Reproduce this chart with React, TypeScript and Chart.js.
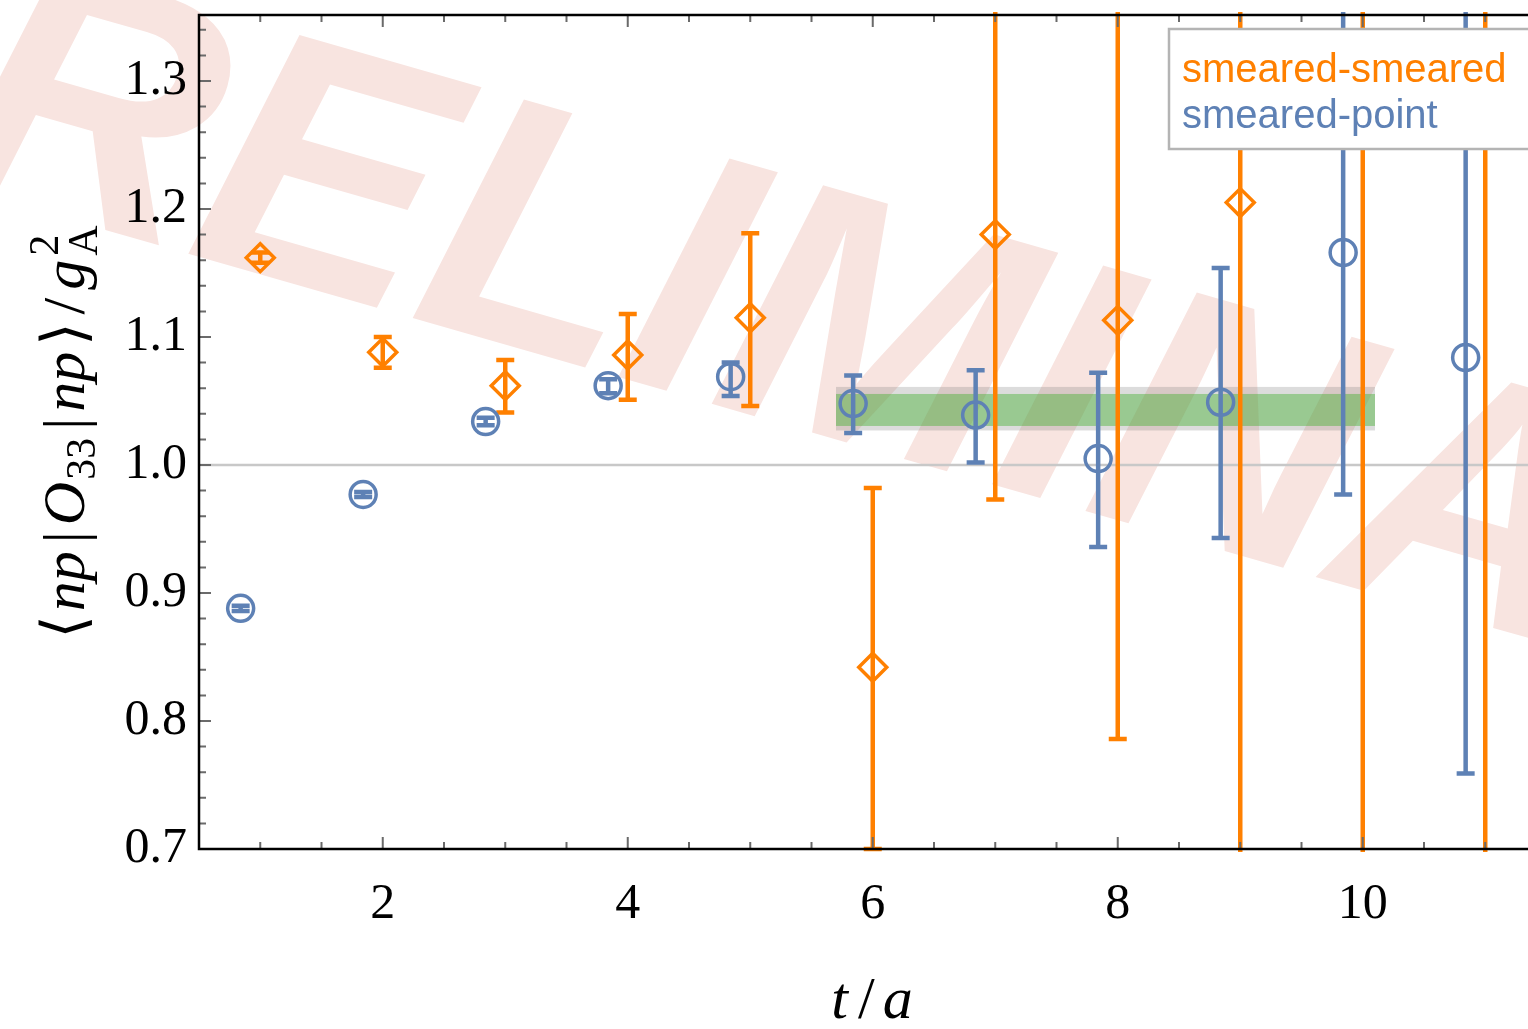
import React, { useEffect, useRef } from "react";
import { Chart, registerables } from "chart.js";

Chart.register(...registerables);

// ---------------- data ----------------
const ssT = [1, 2, 3, 4, 5, 6, 7, 8, 9, 10, 11];
const ssVal = [1.162, 1.088, 1.062, 1.086, 1.115, 0.842, 1.18, 1.113, 1.205, 1.5, 0.5];
const ssLo = [1.158, 1.076, 1.041, 1.051, 1.046, 0.7, 0.973, 0.786, 0.6, 0.4, 0.3];
const ssHi = [1.166, 1.1, 1.082, 1.118, 1.181, 0.982, 1.45, 1.5, 1.8, 2.4, 1.6];

const spT = [0.84, 1.84, 2.84, 3.84, 4.84, 5.84, 6.84, 7.84, 8.84, 9.84, 10.84];
const spVal = [0.888, 0.977, 1.034, 1.062, 1.069, 1.048, 1.039, 1.005, 1.049, 1.166, 1.084];
const spLo = [0.886, 0.975, 1.031, 1.056, 1.054, 1.025, 1.002, 0.936, 0.943, 0.977, 0.759];
const spHi = [0.89, 0.979, 1.037, 1.067, 1.08, 1.07, 1.074, 1.072, 1.154, 1.5, 1.5];

const fitT = [5.7, 10.1];
const fitInner = [1.0305, 1.0555];
const fitOuter = [1.027, 1.061];
const refLine = 1.0;

const xTickVals = [2, 4, 6, 8, 10];
const yTickVals = [0.7, 0.8, 0.9, 1.0, 1.1, 1.2, 1.3];
const legendLabels = ["smeared-smeared", "smeared-point"];
const watermark = "PRELIMINARY";

// ---------------- style ----------------
const ORANGE = "#ff8000";
const BLUE = "#5e81b5";
const W = 1528;
const H = 1029;
const SERIF = '"Liberation Serif", "DejaVu Serif", serif';

type Piece = { t: string; font: string; dy?: number; gap?: number; noAdvance?: boolean };

function richText(
  ctx: CanvasRenderingContext2D,
  pieces: Piece[],
  cx: number,
  cy: number,
  angle: number
) {
  ctx.save();
  const widths = pieces.map((p) => {
    ctx.font = p.font;
    return ctx.measureText(p.t).width;
  });
  let total = 0;
  pieces.forEach((p, i) => {
    if (!p.noAdvance) total += widths[i] + (p.gap || 0);
  });
  ctx.translate(cx, cy);
  ctx.rotate(angle);
  ctx.fillStyle = "#000";
  ctx.textBaseline = "alphabetic";
  ctx.textAlign = "left";
  let x = -total / 2;
  pieces.forEach((p, i) => {
    ctx.font = p.font;
    ctx.fillText(p.t, x, p.dy || 0);
    if (!p.noAdvance) x += widths[i] + (p.gap || 0);
  });
  ctx.restore();
}

const decorPlugin = {
  id: "decor",
  beforeDraw(chart: any) {
    const ctx = chart.ctx as CanvasRenderingContext2D;
    ctx.save();
    ctx.translate(-285, 118);
    ctx.rotate((16 * Math.PI) / 180);
    ctx.font = 'italic bold 350px "Liberation Sans", Arial, sans-serif';
    ctx.fillStyle = "#f8e4e0";
    ctx.textBaseline = "alphabetic";
    ctx.fillText(watermark, 0, 0);
    ctx.restore();
  },
  beforeDatasetsDraw(chart: any) {
    const ctx = chart.ctx as CanvasRenderingContext2D;
    const xs = chart.scales.x;
    const ys = chart.scales.y;
    const a = chart.chartArea;
    ctx.save();
    ctx.beginPath();
    ctx.rect(a.left, a.top - 3, a.right - a.left, a.bottom - a.top + 6);
    ctx.clip();

    // reference line
    ctx.strokeStyle = "#c8c8c8";
    ctx.lineWidth = 2.5;
    const y1 = ys.getPixelForValue(refLine);
    ctx.beginPath();
    ctx.moveTo(a.left, y1);
    ctx.lineTo(a.right, y1);
    ctx.stroke();

    // fit band
    const bx0 = xs.getPixelForValue(fitT[0]);
    const bx1 = xs.getPixelForValue(fitT[1]);
    const oy0 = ys.getPixelForValue(fitOuter[1]);
    const oy1 = ys.getPixelForValue(fitOuter[0]);
    ctx.fillStyle = "rgba(120,120,120,0.26)";
    ctx.fillRect(bx0, oy0, bx1 - bx0, oy1 - oy0);
    const iy0 = ys.getPixelForValue(fitInner[1]);
    const iy1 = ys.getPixelForValue(fitInner[0]);
    ctx.fillStyle = "rgba(60,175,40,0.42)";
    ctx.fillRect(bx0, iy0, bx1 - bx0, iy1 - iy0);

    // error bars
    const groups = [
      { t: ssT, lo: ssLo, hi: ssHi, color: ORANGE, cap: 9 },
      { t: spT, lo: spLo, hi: spHi, color: BLUE, cap: 9 },
    ];
    for (const g of groups) {
      ctx.strokeStyle = g.color;
      ctx.lineWidth = 4.5;
      ctx.lineCap = "butt";
      g.t.forEach((t, i) => {
        const px = xs.getPixelForValue(t);
        const pl = ys.getPixelForValue(g.lo[i]);
        const ph = ys.getPixelForValue(g.hi[i]);
        ctx.beginPath();
        ctx.moveTo(px, pl);
        ctx.lineTo(px, ph);
        ctx.moveTo(px - g.cap, pl);
        ctx.lineTo(px + g.cap, pl);
        ctx.moveTo(px - g.cap, ph);
        ctx.lineTo(px + g.cap, ph);
        ctx.stroke();
      });
    }
    ctx.restore();
  },
  afterDraw(chart: any) {
    const ctx = chart.ctx as CanvasRenderingContext2D;
    const xs = chart.scales.x;
    const ys = chart.scales.y;
    const a = chart.chartArea;
    ctx.save();
    // ticks
    ctx.strokeStyle = "#6a6a6a";
    ctx.lineWidth = 2;
    ctx.beginPath();
    for (let k = 2; k <= 22; k++) {
      const v = k / 2;
      const px = xs.getPixelForValue(v);
      if (px > a.right) continue;
      const len = xTickVals.includes(v) ? 12 : 7;
      ctx.moveTo(px, a.bottom);
      ctx.lineTo(px, a.bottom - len);
      ctx.moveTo(px, a.top);
      ctx.lineTo(px, a.top + len);
    }
    for (let k = 35; k <= 67; k++) {
      const v = k / 50;
      const py = ys.getPixelForValue(v);
      if (py < a.top) continue;
      const len = k % 5 === 0 ? 12 : 7;
      ctx.moveTo(a.left, py);
      ctx.lineTo(a.left + len, py);
    }
    ctx.stroke();
    // frame
    ctx.strokeStyle = "#000";
    ctx.lineWidth = 2.5;
    ctx.beginPath();
    ctx.moveTo(a.right + 2, a.top);
    ctx.lineTo(a.left, a.top);
    ctx.lineTo(a.left, a.bottom);
    ctx.lineTo(a.right + 2, a.bottom);
    ctx.stroke();

    // legend
    ctx.fillStyle = "#fff";
    ctx.fillRect(1169, 29, 400, 120);
    ctx.strokeStyle = "#b4b4b4";
    ctx.lineWidth = 2.5;
    ctx.strokeRect(1169, 29, 400, 120);
    ctx.font = '40px "Liberation Sans", Arial, sans-serif';
    ctx.textBaseline = "alphabetic";
    ctx.textAlign = "left";
    ctx.fillStyle = ORANGE;
    ctx.fillText(legendLabels[0], 1182, 82);
    ctx.fillStyle = BLUE;
    ctx.fillText(legendLabels[1], 1182, 128);

    // axis titles
    const it = `italic 60px ${SERIF}`;
    const up = `60px ${SERIF}`;
    const sm = `42px ${SERIF}`;
    richText(
      ctx,
      [
        { t: "t", font: it, gap: 10 },
        { t: "/", font: up, gap: 8 },
        { t: "a", font: it },
      ],
      872,
      1018,
      0
    );
    richText(
      ctx,
      [
        { t: "\u27E8", font: up, gap: 4 },
        { t: "np", font: it, gap: 8 },
        { t: "|", font: up, gap: 6 },
        { t: "O", font: it, gap: 2 },
        { t: "33", font: sm, dy: 11, gap: 8 },
        { t: "|", font: up, gap: 6 },
        { t: "np", font: it, gap: 6 },
        { t: "\u27E9", font: up, gap: 8 },
        { t: "/", font: up, gap: 8 },
        { t: "g", font: it, gap: 4 },
        { t: "2", font: sm, dy: -26, noAdvance: true },
        { t: "A", font: sm, dy: 13 },
      ],
      84,
      432,
      -Math.PI / 2
    );
    ctx.restore();
  },
};

const zeroPad = (s: any) => {
  s.paddingLeft = 0;
  s.paddingRight = 0;
  s.paddingTop = 0;
  s.paddingBottom = 0;
};

export default function App() {
  const ref = useRef<HTMLCanvasElement | null>(null);
  useEffect(() => {
    if (!ref.current) return;
    const chart = new Chart(ref.current, {
      type: "scatter",
      data: {
        datasets: [
          {
            label: legendLabels[0],
            data: ssT.map((t, i) => ({ x: t, y: ssVal[i] })),
            pointStyle: "rectRot",
            pointRadius: 14,
            pointHoverRadius: 14,
            borderColor: ORANGE,
            backgroundColor: "rgba(0,0,0,0)",
            borderWidth: 3.5,
            showLine: false,
            clip: 0,
          } as any,
          {
            label: legendLabels[1],
            data: spT.map((t, i) => ({ x: t, y: spVal[i] })),
            pointStyle: "circle",
            pointRadius: 13,
            pointHoverRadius: 13,
            borderColor: BLUE,
            backgroundColor: "rgba(0,0,0,0)",
            borderWidth: 3.5,
            showLine: false,
            clip: 0,
          } as any,
        ],
      },
      options: {
        animation: false,
        responsive: false,
        events: [],
        layout: { autoPadding: false, padding: { top: 15, left: 0, right: 0, bottom: 0 } },
        plugins: { legend: { display: false }, tooltip: { enabled: false } },
        scales: {
          x: {
            type: "linear",
            min: 0.5,
            max: 0.5 + (W - 199) / 122.5,
            grid: { display: false, drawTicks: false },
            border: { display: false },
            afterBuildTicks: (s: any) => {
              s.ticks = xTickVals.map((v) => ({ value: v }));
            },
            afterFit: (s: any) => {
              s.height = H - 849;
              zeroPad(s);
            },
            ticks: {
              padding: 26,
              color: "#000",
              font: { family: SERIF, size: 50 },
              callback: (v: any) => String(v),
              maxRotation: 0,
            },
          },
          y: {
            type: "linear",
            min: 0.7,
            max: 0.7 + (849 - 15) / 1280,
            grid: { display: false, drawTicks: false },
            border: { display: false },
            afterBuildTicks: (s: any) => {
              s.ticks = yTickVals.map((v) => ({ value: v }));
            },
            afterFit: (s: any) => {
              s.width = 199;
              zeroPad(s);
            },
            ticks: {
              padding: 12,
              color: "#000",
              font: { family: SERIF, size: 50 },
              callback: (v: any) => Number(v).toFixed(1),
            },
          },
        },
      } as any,
      plugins: [decorPlugin],
    });
    return () => chart.destroy();
  }, []);
  return (
    <div style={{ position: "absolute", left: 0, top: 0, width: W, height: H, background: "#fff" }}>
      <canvas ref={ref} width={W} height={H} style={{ width: W, height: H, display: "block" }} />
    </div>
  );
}
